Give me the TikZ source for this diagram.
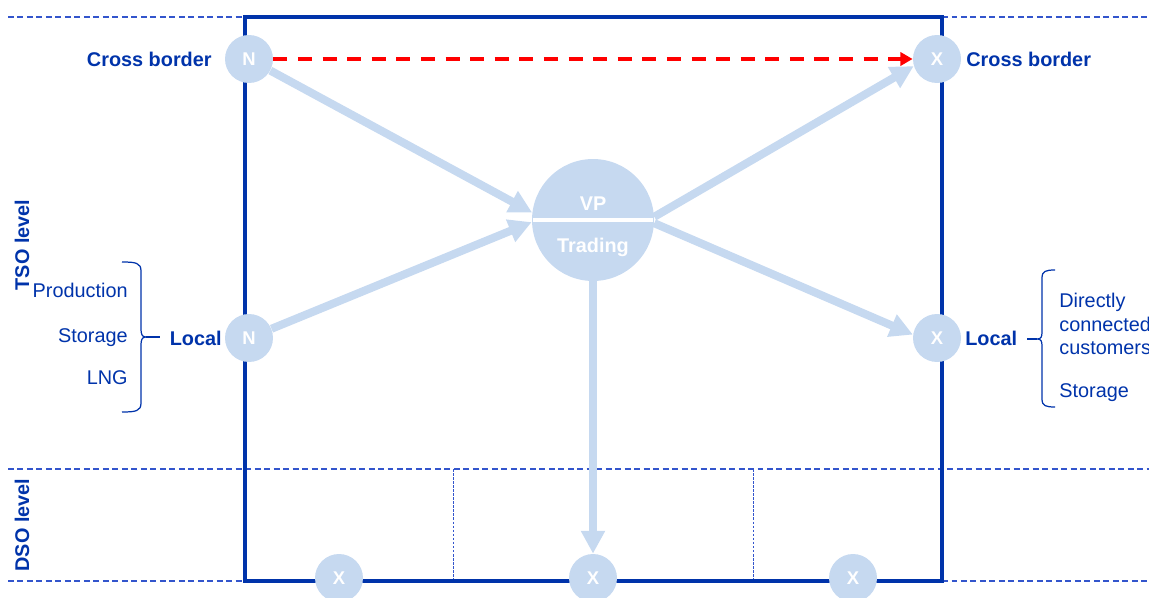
\documentclass[tikz,border=0pt]{standalone}
\usepackage{fontspec}
\setmainfont{Liberation Sans}
\usetikzlibrary{arrows.meta}
\definecolor{dblue}{RGB}{0,51,170}
\definecolor{mblue}{RGB}{51,85,204}
\definecolor{lblue}{RGB}{198,217,240}
\definecolor{ared}{RGB}{255,0,0}
\begin{document}
\begin{tikzpicture}[x=0.02cm,y=-0.02cm,
  font=\fontsize{11.3}{13}\selectfont,
  levelline/.style={mblue, line width=1.1pt, dash pattern=on 3.4pt off 2pt},
  subline/.style={mblue, line width=0.5pt, dash pattern=on 1.5pt off 0.8pt},
  frame/.style={dblue, line width=2pt},
  pnt/.style={circle, fill=lblue, minimum size=0.96cm, inner sep=0pt, text=white, font=\fontsize{10.5}{12}\selectfont\bfseries},
  hub/.style={circle, fill=lblue, minimum size=2.44cm, inner sep=0pt},
  hubtxt/.style={text=white, font=\fontsize{11.3}{13}\selectfont\bfseries, inner sep=0pt, anchor=base},
  flow/.style={lblue, line width=4.6pt, -{Triangle[length=13pt,width=13pt]}},
  cross/.style={ared, line width=2.2pt, dash pattern=on 8pt off 6pt, -{Triangle[length=7pt,width=7.5pt]}},
  lbl/.style={text=dblue, font=\fontsize{11.3}{13}\selectfont\bfseries, inner sep=0pt},
  item/.style={text=dblue, inner sep=0pt},
  lvl/.style={text=dblue, font=\fontsize{11.3}{13}\selectfont\bfseries, inner sep=0pt, rotate=90},
  brace/.style={dblue, line width=0.7pt},
]
\clip (0,0) rectangle (1149,598);
% level lines
\draw[levelline] (8,17) -- (245,17);
\draw[levelline] (942,17) -- (1149,17);
\draw[levelline] (8,469) -- (1149,469);
\draw[levelline] (8,581) -- (245,581);
\draw[levelline] (942,581) -- (1149,581);
\draw[subline] (453,469) -- (453,581);
\draw[subline] (753,469) -- (753,581);
% frame
\draw[frame] (245,17) rectangle (942,581);
% points
\node[pnt] (n1) at (249,59) {N};
\node[pnt] (n2) at (249,338) {N};
\node[pnt] (x1) at (937,59) {X};
\node[pnt] (x2) at (937,338) {X};
\node[pnt] (x3) at (339,578) {X};
\node[pnt] (x4) at (593,578) {X};
\node[pnt] (x5) at (853,578) {X};
\node[hub] (vp) at (593,220) {};
\draw[white, line width=2.6pt] ([xshift=1pt]vp.west) -- ([xshift=-1pt]vp.east);
\node[hubtxt] (vpt) at (593,210) {VP};
\node[hubtxt] (trd) at (593,252) {Trading};
% flows
\draw[flow] (n1) -- (vp.173);
\draw[flow] (n2) -- (vp.182);
\draw[flow] (vp.3) -- (x1.197);
\draw[flow] (vp.357) -- (x2.172);
\draw[flow] (vp.south) -- (x4.north);
\draw[cross] (n1.east) -- (x1.west);
% labels
\node[lbl, anchor=base east] (cbl) at (212,67) {Cross border};
\node[lbl, anchor=base west] (cbr) at (966,67) {Cross border};
\node[lbl, anchor=base east] (lol) at (222,345) {Local};
\node[lbl, anchor=base west] (lor) at (965,345) {Local};
\node[lvl] (tso) at (22,245) {TSO level};
\node[lvl] (dso) at (22,525) {DSO level};
% left items
\node[item, anchor=base east] (prod) at (128,297) {Production};
\node[item, anchor=base east] (stl) at (128,342) {Storage};
\node[item, anchor=base east] (lng) at (128,384) {LNG};
\draw[brace] (122,262) .. controls (136,262) and (141,263) .. (141,271) -- (141,329) .. controls (141,334) and (142,337) .. (146,337) .. controls (142,337) and (141,340) .. (141,345) -- (141,403) .. controls (141,411) and (136,412) .. (122,412);
\draw[brace] (146,337) -- (160,337);
% right items
\node[item, anchor=base west] (dir) at (1059,307) {Directly};
\node[item, anchor=base west] (con) at (1059,331) {connected};
\node[item, anchor=base west] (cus) at (1059,354) {customers};
\node[item, anchor=base west] (str) at (1059,397) {Storage};
\draw[brace] (1055,270) .. controls (1046,270) and (1042,271) .. (1042,278) -- (1042,332) .. controls (1042,337) and (1041,339) .. (1037,339) .. controls (1041,339) and (1042,341) .. (1042,346) -- (1042,399) .. controls (1042,406) and (1046,407) .. (1055,407);
\draw[brace] (1037,339) -- (1027,339);
\end{tikzpicture}
\end{document}
